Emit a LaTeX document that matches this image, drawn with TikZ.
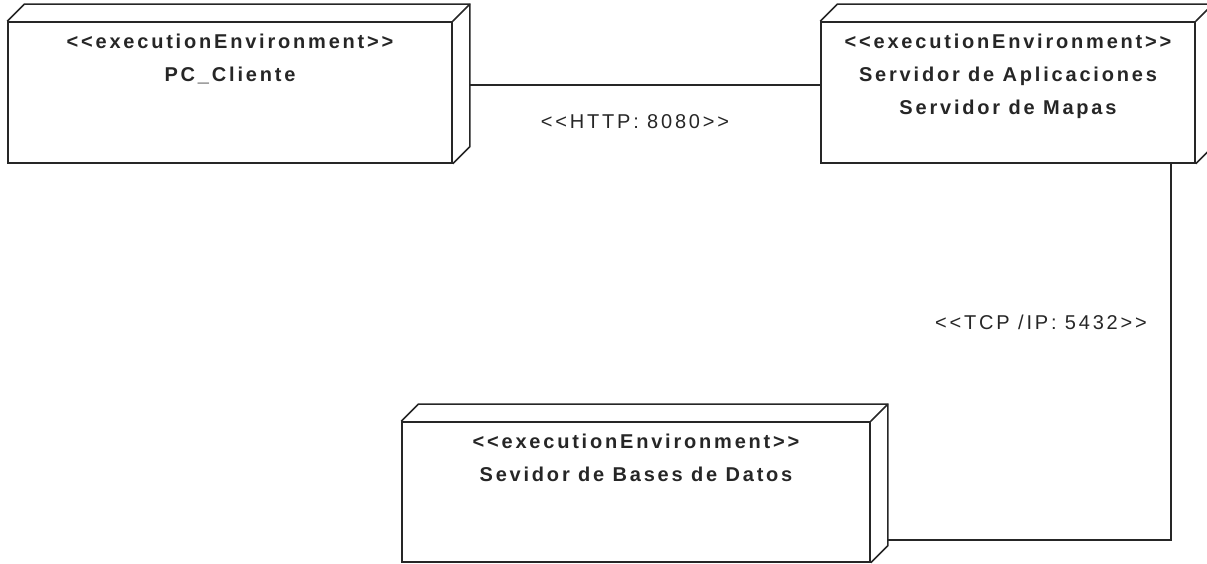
\documentclass[tikz,border=0pt]{standalone}
\usepackage{fontspec}
\setmainfont{Liberation Sans}[LetterSpace=14, Ligatures=TeXOff]
\usetikzlibrary{positioning}
\begin{document}
\begin{tikzpicture}[x=1pt, y=1pt,
    edge/.style={draw=black!85, line width=1.6pt},
    envbox/.style={edge, rectangle, inner sep=0pt},
    envtext/.style={align=center, inner sep=0pt, text=black!85,
        font=\fontsize{20}{33}\selectfont\bfseries},
    linklabel/.style={inner sep=0pt, text=black!85, font=\fontsize{20}{24}\selectfont}]
\useasboundingbox (0,0) rectangle (1207,564);
\node[envbox, minimum width=444, minimum height=141] (pc) at (230,471.5) {};
\node[envbox, minimum width=374, minimum height=141] (app) at (1008,471.5) {};
\node[envbox, minimum width=468, minimum height=140] (db) at (636,72) {};
\foreach \n in {pc,app,db} {
  \draw[edge] (\n.north west) -- ++(17,17) -- ([shift={(17,17)}]\n.north east)
        -- ([shift={(17,17)}]\n.south east) -- (\n.south east);
  \draw[edge] (\n.north east) -- ++(17,17);
}
\node[envtext, below=13pt of pc.north] (pctext) {<<executionEnvironment>>\\PC\_Cliente};
\node[envtext, below=13pt of app.north] (apptext) {<<executionEnvironment>>\\Servidor de Aplicaciones\\Servidor de Mapas};
\node[envtext, below=13pt of db.north] (dbtext) {<<executionEnvironment>>\\Sevidor de Bases de Datos};
\draw[edge] ([shift={(17,7.5)}]pc.east) -- ([yshift=7.5]app.west);
\draw[edge] ([xshift=163]app.south) |- ([shift={(17,-48)}]db.east);
\node[linklabel] (http) at (635,442) {<<HTTP: 8080>>};
\node[linklabel] (tcp) at (1041,242) {<<TCP /IP: 5432>>};
\end{tikzpicture}
\end{document}
